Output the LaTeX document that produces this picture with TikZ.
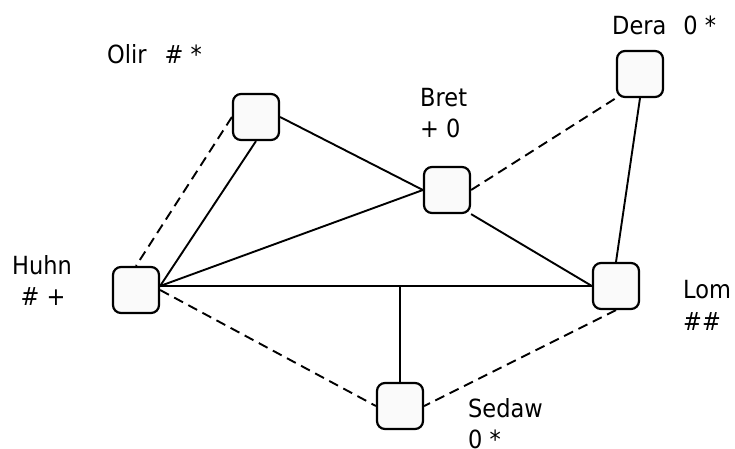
\documentclass[tikz,border=0pt]{standalone}
\usepackage{fontspec}
\setmainfont[FakeStretch=0.9]{DejaVu Sans}
\definecolor{boxfill}{RGB}{250,250,250}
\begin{document}
\begin{tikzpicture}[x=1pt,y=-1pt,
  box/.style={draw, line width=2.2pt, rounded corners=8pt, fill=boxfill,
    minimum width=46pt, minimum height=46pt, inner sep=0pt},
  link/.style={line width=1.9pt},
  weak/.style={line width=1.9pt, dash pattern=on 10pt off 6pt},
  lbl/.style={font=\fontsize{25}{31}\selectfont, inner sep=0pt}]
\path[use as bounding box] (0,0) rectangle (735,448);

% stations
\node[box] (olir)  at (256,117) {};
\node[box] (bret)  at (447,190) {};
\node[box] (dera)  at (640,74)  {};
\node[box] (huhn)  at (136,290) {};
\node[box] (lom)   at (616,286) {};
\node[box] (sedaw) at (400,406) {};

% junctions on the main line
\coordinate (hj) at (lom.west -| huhn.east);
\coordinate (sj) at (sedaw.north |- lom.west);

% solid links
\draw[link] (olir.south) -- (hj);
\draw[link] (olir.east) -- (bret.west);
\draw[link] (hj) -- (bret.west);
\draw[link] (hj) -- (lom.west);
\draw[link] (bret.south east) -- (lom.west);
\draw[link] (dera.south) -- (lom.north);
\draw[link] (sedaw.north) -- (sj);

% dashed links
\draw[weak] (olir.west) -- (huhn.north);
\draw[weak] (bret.east) -- (dera.south west);
\draw[weak] (huhn.east) -- (sedaw.west);
\draw[weak] (lom.south) -- (sedaw.east);

% labels
\node[lbl, anchor=base west] (olirT) at (107,63) {Olir\hspace{18pt}\# *};
\node[lbl, anchor=base west] (deraT) at (612,34) {Dera\hspace{17pt}0 *};
\node[lbl, anchor=base west] (bretT1) at (420,106) {Bret};
\node[lbl, anchor=base west] (bretT2) at (420,137) {+ 0};
\node[lbl, anchor=base] (huhnT1) at (42,274) {Huhn};
\node[lbl, anchor=base] (huhnT2) at (43,305) {\# +};
\node[lbl, anchor=base west] (lomT1) at (683,298) {Lom};
\node[lbl, anchor=base west] (lomT2) at (683,330) {\#\#};
\node[lbl, anchor=base west] (sedawT1) at (468,417) {Sedaw};
\node[lbl, anchor=base west] (sedawT2) at (468,448) {0 *};
\end{tikzpicture}
\end{document}
